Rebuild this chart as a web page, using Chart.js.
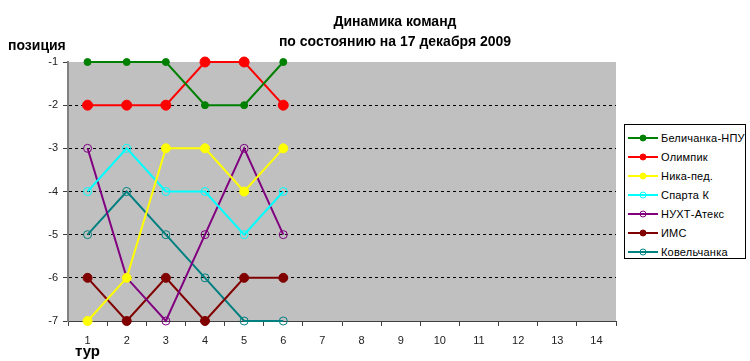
<!DOCTYPE html>
<html>
<head>
<meta charset="utf-8">
<script src="https://cdn.jsdelivr.net/npm/chart.js@4"></script>
<style>
  body { margin: 0; background: #fff; font-family: "Liberation Sans", Arial, sans-serif; }
  #wrap { position: relative; width: 750px; height: 361px; }
  .lbl { position: absolute; font-weight: bold; color: #000; white-space: nowrap; }
  #title { left: 245px; width: 300px; top: 11px; text-align: center; font-size: 14px; line-height: 20px; }
  #legend { position: absolute; left: 624px; top: 124px; width: 122px; height: 135px; border: 1px solid #000; background: #fff; box-sizing: border-box; padding-top: 3px; }
  .item { height: 19px; display: flex; align-items: center; font-size: 11px; letter-spacing: 0.2px; }
  .item svg { margin-left: 3px; margin-right: 3px; }
</style>
</head>
<body>
<div id="wrap">
  <canvas id="grafico" width="750" height="361"></canvas>
  <div id="title" class="lbl">Динамика команд<br>по состоянию на 17 декабря 2009</div>
  <div class="lbl" style="left:8px; top:37px; font-size:14px;">позиция</div>
  <div class="lbl" style="left:75px; top:342px; font-size:15px;">тур</div>
  <div id="legend"></div>
</div>
<script>
// Туры и позиции команд
const tury = ["1", "2", "3", "4", "5", "6", "7", "8", "9", "10", "11", "12", "13", "14"];
const belichanka = [-1, -1, -1, -2, -2, -1];
const olimpik = [-2, -2, -2, -1, -1, -2];
const nikaPed = [-7, -6, -3, -3, -4, -3];
const spartaK = [-4, -3, -4, -4, -5, -4];
const nuhtAteks = [-3, -6, -7, -5, -3, -5];
const ims = [-6, -7, -6, -7, -6, -6];
const kovelchanka = [-5, -4, -5, -6, -7, -7];

const komandy = [
    { nome: "Беличанка-НПУ", dados: belichanka, cor: "#008000", raio: 3.5, cheio: true },
    { nome: "Олимпик", dados: olimpik, cor: "#ff0000", raio: 5, cheio: true },
    { nome: "Ника-пед.", dados: nikaPed, cor: "#ffff00", raio: 4.5, cheio: true },
    { nome: "Спарта К", dados: spartaK, cor: "#00ffff", raio: 4, cheio: false },
    { nome: "НУХТ-Атекс", dados: nuhtAteks, cor: "#800080", raio: 4, cheio: false },
    { nome: "ИМС", dados: ims, cor: "#800000", raio: 4.5, cheio: true },
    { nome: "Ковельчанка", dados: kovelchanka, cor: "#008080", raio: 4, cheio: false }
];

// Fundo cinza da área do gráfico
const fundoPlugin = {
    id: "fundo",
    beforeDraw(chart) {
        const a = chart.chartArea;
        const ctx = chart.ctx;
        ctx.save();
        ctx.fillStyle = "#c0c0c0";
        ctx.fillRect(a.left, a.top, a.right - a.left, a.bottom - a.top);
        ctx.restore();
    }
};

const fonte = { family: "'Liberation Sans', Arial, sans-serif", size: 11 };

new Chart(document.getElementById("grafico"), {
    type: "line",
    data: {
        labels: tury,
        datasets: komandy.map(k => ({
            label: k.nome,
            data: k.dados,
            borderColor: k.cor,
            borderWidth: 2,
            pointRadius: k.raio,
            pointBorderWidth: 1,
            pointBorderColor: k.cor,
            pointBackgroundColor: k.cheio ? k.cor : "rgba(0,0,0,0)",
            tension: 0,
            clip: false
        }))
    },
    options: {
        responsive: false,
        animation: false,
        layout: { padding: { left: 0, top: 62, right: 134, bottom: 0 } },
        plugins: { legend: { display: false }, tooltip: { enabled: false }, title: { display: false } },
        scales: {
            x: {
                offset: true,
                afterFit(s) { s.height = 40; },
                grid: { offset: true, drawOnChartArea: false, drawTicks: true, tickLength: 5, tickColor: "#404040" },
                border: { color: "#404040", width: 1 },
                ticks: { color: "#222", font: fonte, padding: 8, maxRotation: 0 }
            },
            y: {
                min: -7,
                max: -1,
                afterFit(s) { s.width = 68; },
                grid: {
                    color: ctx => (ctx.tick && (ctx.tick.value === -1 || ctx.tick.value === -7)) ? "rgba(0,0,0,0)" : "#000",
                    lineWidth: 1,
                    drawTicks: true,
                    tickLength: 5,
                    tickColor: "#404040"
                },
                border: { color: "#808080", width: 2, dash: [3, 3] },
                ticks: { stepSize: 1, color: "#222", font: fonte, padding: 5 }
            }
        }
    },
    plugins: [fundoPlugin]
});

// Legenda manual
const legenda = document.getElementById("legend");
komandy.forEach(k => {
    const fill = k.cheio ? k.cor : "none";
    legenda.innerHTML += `<div class="item"><svg width="30" height="8"><line x1="0" y1="4" x2="30" y2="4" stroke="${k.cor}" stroke-width="2"/><circle cx="15" cy="4" r="3" fill="${fill}" stroke="${k.cor}"/></svg>${k.nome}</div>`;
});
</script>
</body>
</html>
